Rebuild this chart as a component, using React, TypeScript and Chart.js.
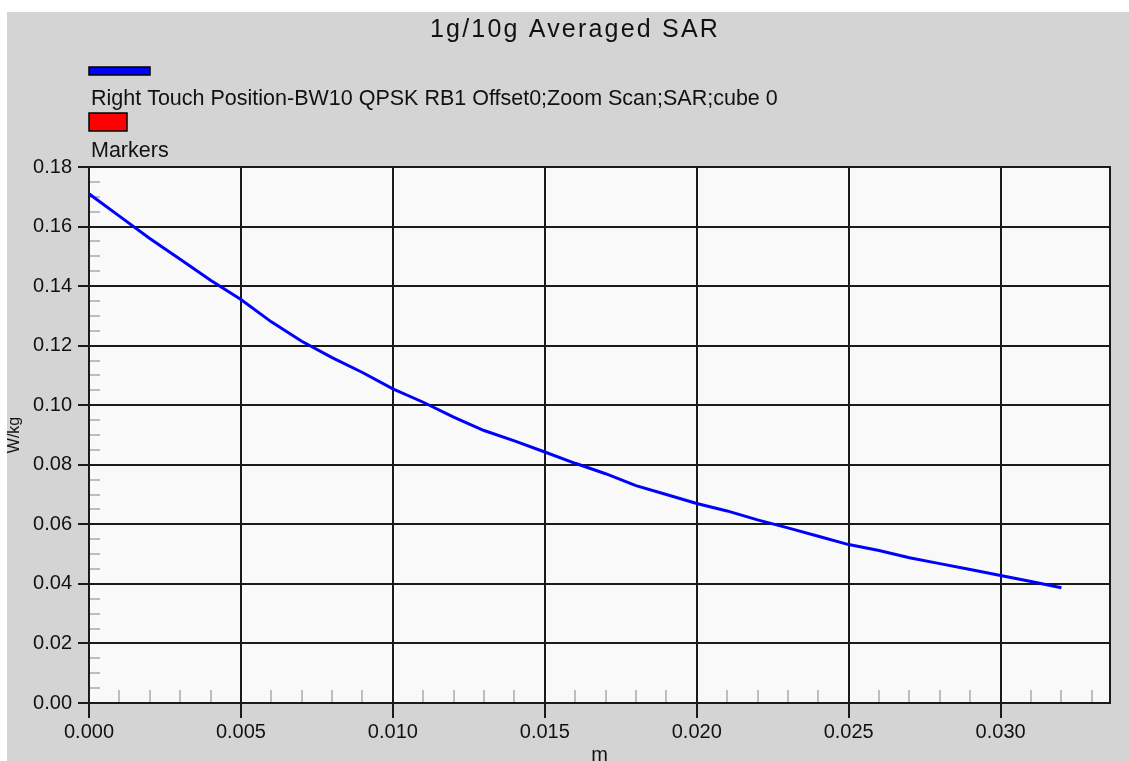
import React, { useEffect, useRef } from "react";
import { Chart, registerables } from "chart.js";

Chart.register(...registerables);

const chartTitle = "1g/10g Averaged SAR";
const seriesName = "Right Touch Position-BW10 QPSK RB1 Offset0;Zoom Scan;SAR;cube 0";
const markersName = "Markers";
const xAxisTitle = "m";
const yAxisTitle = "W/kg";

const distances = [
  0, 0.001, 0.002, 0.003, 0.004, 0.005, 0.006, 0.007, 0.008, 0.009, 0.01,
  0.011, 0.012, 0.013, 0.014, 0.015, 0.016, 0.017, 0.018, 0.019, 0.02,
  0.021, 0.022, 0.023, 0.024, 0.025, 0.026, 0.027, 0.028, 0.029, 0.03,
  0.031, 0.032,
];
const sarValues = [
  0.171, 0.1635, 0.156, 0.149, 0.142, 0.1355, 0.128, 0.1215, 0.116, 0.111,
  0.1055, 0.101, 0.096, 0.0915, 0.088, 0.0843, 0.0805, 0.077, 0.073, 0.07,
  0.067, 0.0645, 0.0615, 0.0588, 0.056, 0.0532, 0.0512, 0.0488, 0.0468,
  0.0448, 0.0428, 0.0408, 0.0387,
];
const xTickValues = [0, 0.005, 0.01, 0.015, 0.02, 0.025, 0.03];
const yTickValues = [0, 0.02, 0.04, 0.06, 0.08, 0.1, 0.12, 0.14, 0.16, 0.18];
const xMax = 0.0336;
const xMinorStep = 0.001;
const yMinorStep = 0.005;

const decorPlugin = {
  id: "sarDecor",
  beforeDraw(chart: any) {
    const { ctx, chartArea: a } = chart;
    ctx.save();
    ctx.fillStyle = "#f9f9f9";
    ctx.fillRect(a.left, a.top, a.right - a.left, a.bottom - a.top);
    ctx.restore();
  },
  beforeDatasetsDraw(chart: any) {
    const { ctx, chartArea: a, scales } = chart;
    const xs = scales.x;
    const ys = scales.y;
    ctx.save();
    ctx.strokeStyle = "#bdbdbd";
    ctx.lineWidth = 2;
    ctx.beginPath();
    const nx = Math.floor(xs.max / xMinorStep + 1e-9);
    for (let i = 1; i <= nx; i++) {
      if (i % 5 === 0) continue;
      const px = Math.round(xs.getPixelForValue(i * xMinorStep));
      ctx.moveTo(px, a.bottom - 1);
      ctx.lineTo(px, a.bottom - 13);
    }
    const ny = Math.round(ys.max / yMinorStep);
    for (let j = 1; j < ny; j++) {
      if (j % 4 === 0) continue;
      const py = Math.round(ys.getPixelForValue(j * yMinorStep));
      ctx.moveTo(a.left + 1, py);
      ctx.lineTo(a.left + 11, py);
    }
    ctx.stroke();
    ctx.restore();
  },
  afterDraw(chart: any) {
    const { ctx, chartArea: a } = chart;
    ctx.save();
    // right frame edge
    ctx.strokeStyle = "#1a1a1a";
    ctx.lineWidth = 2;
    ctx.beginPath();
    ctx.moveTo(a.right, a.top - 1);
    ctx.lineTo(a.right, a.bottom + 1);
    ctx.stroke();

    // title
    ctx.fillStyle = "#111";
    ctx.font = "25px 'Liberation Sans', Arial, sans-serif";
    (ctx as any).letterSpacing = "2.2px";
    ctx.textAlign = "center";
    ctx.textBaseline = "alphabetic";
    ctx.fillText(chartTitle, 568, 25);
    (ctx as any).letterSpacing = "0px";

    // legend
    ctx.textAlign = "left";
    ctx.lineWidth = 1.5;
    ctx.strokeStyle = "#000";
    ctx.fillStyle = "#0000ff";
    ctx.fillRect(82, 55, 61, 8);
    ctx.strokeRect(82, 55, 61, 8);
    ctx.fillStyle = "#ff0000";
    ctx.fillRect(82, 101, 38, 18);
    ctx.strokeRect(82, 101, 38, 18);
    ctx.fillStyle = "#111";
    ctx.font = "21.5px 'Liberation Sans', Arial, sans-serif";
    ctx.fillText(seriesName, 84, 93);
    ctx.fillText(markersName, 84, 145);
    ctx.restore();
  },
};

export default function App() {
  const canvasRef = useRef<HTMLCanvasElement | null>(null);

  useEffect(() => {
    if (!canvasRef.current) return;
    const tickFont = { family: "'Liberation Sans', Arial, sans-serif", size: 20 };
    const chart = new Chart(canvasRef.current, {
      type: "line",
      data: {
        datasets: [
          {
            label: seriesName,
            data: distances.map((d, i) => ({ x: d, y: sarValues[i] })),
            borderColor: "#0000ff",
            backgroundColor: "#0000ff",
            borderWidth: 3,
            pointRadius: 0,
            tension: 0,
            fill: false,
          },
        ],
      },
      options: {
        animation: false,
        responsive: false,
        devicePixelRatio: 1,
        layout: { padding: { left: 0, top: 155, right: 19, bottom: 0 } },
        plugins: {
          legend: { display: false },
          title: { display: false },
          tooltip: { enabled: false },
        },
        scales: {
          x: {
            type: "linear",
            min: 0,
            max: xMax,
            afterFit: (s: any) => {
              s.height = 58;
            },
            afterBuildTicks: (s: any) => {
              s.ticks = xTickValues.map((v) => ({ value: v }));
            },
            ticks: {
              includeBounds: false,
              autoSkip: false,
              maxRotation: 0,
              padding: 2,
              color: "#111",
              font: tickFont,
              callback: (v: any) => Number(v).toFixed(3),
            },
            grid: {
              color: "#1a1a1a",
              lineWidth: 2,
              tickColor: "#1a1a1a",
              tickLength: 15,
              drawTicks: true,
            },
            border: { display: true, color: "#1a1a1a", width: 2 },
            title: {
              display: true,
              text: xAxisTitle,
              color: "#111",
              font: { family: "'Liberation Sans', Arial, sans-serif", size: 20, lineHeight: 0.6 },
              padding: 0,
            },
          },
          y: {
            type: "linear",
            min: 0,
            max: 0.18,
            afterFit: (s: any) => {
              s.width = 82;
            },
            afterBuildTicks: (s: any) => {
              s.ticks = yTickValues.map((v) => ({ value: v }));
            },
            ticks: {
              includeBounds: false,
              autoSkip: false,
              padding: 6,
              color: "#111",
              font: tickFont,
              callback: (v: any) => Number(v).toFixed(2),
            },
            grid: {
              color: "#1a1a1a",
              lineWidth: 2,
              tickColor: "#1a1a1a",
              tickLength: 11,
              drawTicks: true,
            },
            border: { display: true, color: "#1a1a1a", width: 2 },
            title: {
              display: true,
              text: yAxisTitle,
              color: "#111",
              font: { family: "'Liberation Sans', Arial, sans-serif", size: 16, lineHeight: 0.9 },
              padding: 0,
            },
          },
        },
      },
      plugins: [decorPlugin],
    } as any);
    return () => chart.destroy();
  }, []);

  return (
    <div
      style={{
        position: "fixed",
        left: 0,
        top: 0,
        width: 1129,
        height: 761,
        overflow: "hidden",
        background: "#ffffff",
      }}
    >
      <div
        style={{
          position: "absolute",
          left: 7,
          top: 12,
          width: 1122,
          height: 749,
          background: "#d4d4d4",
        }}
      >
        <canvas ref={canvasRef} width={1122} height={749} style={{ display: "block" }} />
      </div>
    </div>
  );
}
